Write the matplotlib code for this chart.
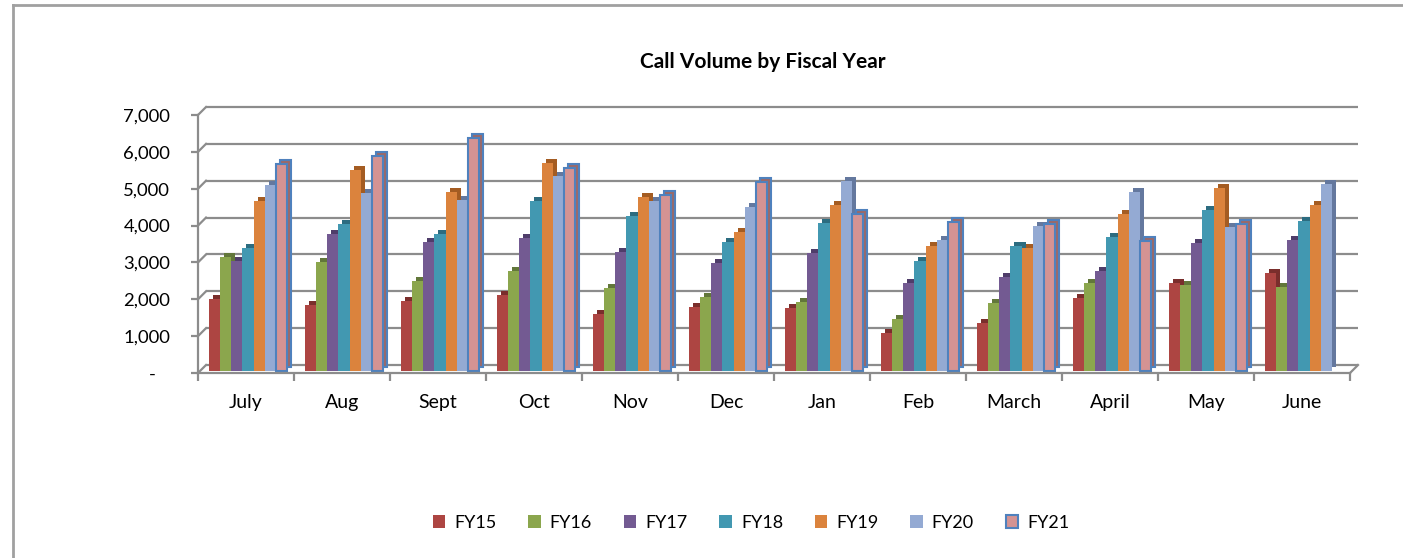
import numpy as np
import matplotlib
matplotlib.use("Agg")
import matplotlib.pyplot as plt
import matplotlib.transforms as mtransforms
from matplotlib.patches import Patch
from matplotlib.ticker import FuncFormatter

# -----------------------------
# Datos
# -----------------------------
months = ["July", "Aug", "Sept", "Oct", "Nov", "Dec", "Jan", "Feb", "March", "April", "May", "June"]
years = ["FY15", "FY16", "FY17", "FY18", "FY19", "FY20", "FY21"]

fy15 = [1950, 1790, 1910, 2060, 1545, 1740, 1720, 1040, 1290, 1970, 2380, 2665]
fy16 = [3100, 2950, 2440, 2720, 2240, 2000, 1860, 1410, 1835, 2380, 2330, 2270]
fy17 = [2980, 3730, 3500, 3610, 3220, 2920, 3210, 2380, 2555, 2720, 3460, 3550]
fy18 = [3340, 3980, 3710, 4620, 4210, 3490, 4020, 2980, 3395, 3640, 4360, 4075]
fy19 = [4610, 5450, 4870, 5630, 4710, 3760, 4500, 3400, 3325, 4255, 4970, 4500]
fy20 = [5040, 4830, 4650, 5300, 4620, 4450, 5150, 3550, 3930, 4860, 3895, 5085]
fy21 = [5610, 5830, 6320, 5520, 4770, 5130, 4270, 4050, 4000, 3520, 4000, np.nan]

series = [fy15, fy16, fy17, fy18, fy19, fy20, fy21]

front_colors = ["#AD4542", "#8BA64D", "#735A92", "#4298B1", "#DB833D", "#94AAD3", "#D49393"]
side_colors = ["#7A2E2C", "#62773A", "#4F3D6A", "#2C6C80", "#A45C22", "#64789E", "#9A6A6A"]
edge_fy21 = "#4F81BD"
grid_gray = "#8C8C8C"

plt.rcParams["font.family"] = ["Lato", "DejaVu Sans"]

# -----------------------------
# Figura
# -----------------------------
fig = plt.figure(figsize=(14.03, 5.58), dpi=100)
ax = fig.add_axes([198 / 1403, 185 / 558, 1152 / 1403, 258 / 558])
ax.set_xlim(-0.5, 11.5)
ax.set_ylim(0, 7000)

# borde del gráfico
fig.add_artist(plt.Line2D([13 / 1403, 13 / 1403], [0, 1 - 5 / 558], color="#A0A0A0", lw=2))
fig.add_artist(plt.Line2D([13 / 1403, 1], [1 - 5 / 558, 1 - 5 / 558], color="#A0A0A0", lw=2))

# profundidad del efecto 3D (en píxeles)
depth = 8 / 100
back = mtransforms.ScaledTranslation(depth, depth, fig.dpi_scale_trans)
ticks_y = np.arange(0, 7001, 1000)

# pared del fondo y piso
ax.hlines(ticks_y, -0.5, 11.5, colors=grid_gray, lw=1.6, transform=ax.transData + back, zorder=1, clip_on=False)
for t in ticks_y:
    p0 = ax.transData.transform((-0.5, t))
    p1 = (ax.transData + back).transform((-0.5, t))
    fig.add_artist(plt.Line2D([p0[0] / 1403, p1[0] / 1403], [p0[1] / 558, p1[1] / 558], color=grid_gray, lw=1.6))
p0 = ax.transData.transform((11.5, 0))
p1 = (ax.transData + back).transform((11.5, 0))
fig.add_artist(plt.Line2D([p0[0] / 1403, p1[0] / 1403], [p0[1] / 558, p1[1] / 558], color=grid_gray, lw=1.6))

# barras
x = np.arange(len(months))
w = 0.116
shift_front = mtransforms.ScaledTranslation(2 / 100, 2 / 100, fig.dpi_scale_trans)
shift_back = mtransforms.ScaledTranslation(6 / 100, 6 / 100, fig.dpi_scale_trans)
for j, vals in enumerate(series):
    pos = x + (j - 3) * w
    if years[j] == "FY21":
        ec, lw = edge_fy21, 1.5
    else:
        ec, lw = "none", 0
    ax.bar(pos, vals, width=w, color=side_colors[j], edgecolor=ec, linewidth=lw,
           transform=ax.transData + shift_back, zorder=2 + j * 2, clip_on=False)
    ax.bar(pos, vals, width=w, color=front_colors[j], edgecolor=ec, linewidth=lw,
           transform=ax.transData + shift_front, zorder=3 + j * 2, clip_on=False)

# ejes
for s in ["top", "right"]:
    ax.spines[s].set_visible(False)
ax.spines["left"].set_color(grid_gray)
ax.spines["bottom"].set_color(grid_gray)
ax.spines["left"].set_linewidth(1.6)
ax.spines["bottom"].set_linewidth(1.6)
ax.spines["bottom"].set_zorder(20)

ax.set_yticks(ticks_y)
ax.yaxis.set_major_formatter(FuncFormatter(lambda v, p: "-   " if v == 0 else f"{v:,.0f}"))
ax.set_xticks(np.arange(-0.5, 12, 1))
ax.set_xticklabels([])
ax.set_xticks(x, minor=True)
ax.set_xticklabels(months, minor=True)
ax.tick_params(axis="x", which="major", length=6, color=grid_gray, width=1.6)
ax.tick_params(axis="x", which="minor", length=0, pad=15, labelsize=14)
ax.tick_params(axis="y", length=5, color=grid_gray, width=1.6, pad=15, labelsize=13.3)

fig.text(763 / 1403, 1 - 62 / 558, "Call Volume by Fiscal Year", ha="center", va="center",
         fontsize=15, fontweight="bold")

# leyenda
handles = []
for j, name in enumerate(years):
    if name == "FY21":
        handles.append(Patch(facecolor=front_colors[j], edgecolor=edge_fy21, linewidth=1.5, label=name))
    else:
        handles.append(Patch(facecolor=front_colors[j], edgecolor="none", label=name))
fig.legend(handles=handles, loc="center", bbox_to_anchor=(751 / 1403, 1 - 523 / 558), ncol=7,
           frameon=False, fontsize=13, handlelength=0.7, handleheight=0.7, handletextpad=0.5,
           columnspacing=1.75)

fig.savefig("out.png", dpi=100)
